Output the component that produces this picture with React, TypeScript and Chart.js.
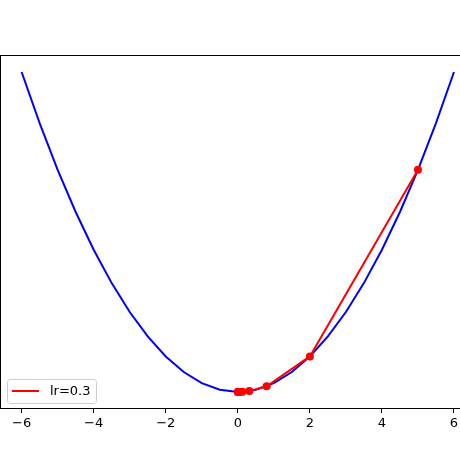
import React, { useEffect, useRef } from "react";
import { Chart, registerables } from "chart.js";

Chart.register(...registerables);

const xTicks = [-6, -4, -2, 0, 2, 4, 6];
const curveX = [-6, -5.5, -5, -4.5, -4, -3.5, -3, -2.5, -2, -1.5, -1, -0.5, 0, 0.5, 1, 1.5, 2, 2.5, 3, 3.5, 4, 4.5, 5, 5.5, 6];
const curveY = [36, 30.25, 25, 20.25, 16, 12.25, 9, 6.25, 4, 2.25, 1, 0.25, 0, 0.25, 1, 2.25, 4, 6.25, 9, 12.25, 16, 20.25, 25, 30.25, 36];
const descentX = [5, 2, 0.8, 0.32, 0.128, 0.0512, 0.02048, 0.008192, 0.0032768, 0.00131072];
const descentY = [25, 4, 0.64, 0.1024, 0.016384, 0.00262144, 0.00041943, 0.0000671, 0.0000107, 0.0000017];
const legendLabel = "lr=0.3";

const FONT = "'DejaVu Sans', sans-serif";

const framePlugin = {
  id: "frame",
  afterDatasetsDraw(chart: any) {
    const { ctx, chartArea: a } = chart;
    ctx.save();
    ctx.strokeStyle = "#000";
    ctx.lineWidth = 1;
    ctx.strokeRect(a.left + 0.5, a.top - 0.5, a.right - a.left, a.bottom - a.top + 1);
    ctx.restore();
  },
};

const legendPlugin = {
  id: "mplLegend",
  afterDraw(chart: any) {
    const { ctx } = chart;
    const ds = chart.data.datasets.find((d: any) => d.label);
    if (!ds) return;
    ctx.save();
    const x = 7.5, y = 379.5, w = 89, h = 24, r = 3;
    ctx.beginPath();
    ctx.moveTo(x + r, y);
    ctx.lineTo(x + w - r, y);
    ctx.quadraticCurveTo(x + w, y, x + w, y + r);
    ctx.lineTo(x + w, y + h - r);
    ctx.quadraticCurveTo(x + w, y + h, x + w - r, y + h);
    ctx.lineTo(x + r, y + h);
    ctx.quadraticCurveTo(x, y + h, x, y + h - r);
    ctx.lineTo(x, y + r);
    ctx.quadraticCurveTo(x, y, x + r, y);
    ctx.closePath();
    ctx.fillStyle = "rgba(255,255,255,0.8)";
    ctx.fill();
    ctx.strokeStyle = "#cccccc";
    ctx.lineWidth = 1;
    ctx.stroke();
    ctx.beginPath();
    ctx.strokeStyle = ds.borderColor;
    ctx.lineWidth = 2;
    ctx.moveTo(12, 391);
    ctx.lineTo(39, 391);
    ctx.stroke();
    ctx.fillStyle = "#000";
    ctx.font = `13px ${FONT}`;
    ctx.textBaseline = "middle";
    ctx.fillText(ds.label, 50, 391.5);
    ctx.restore();
  },
};

export default function App() {
  const ref = useRef<HTMLCanvasElement>(null);
  useEffect(() => {
    if (!ref.current) return;
    const chart = new Chart(ref.current, {
      type: "line",
      data: {
        datasets: [
          {
            data: curveX.map((x, i) => ({ x, y: curveY[i] })),
            borderColor: "#0000ff",
            borderWidth: 2,
            pointRadius: 0,
            fill: false,
            order: 2,
          },
          {
            label: legendLabel,
            data: descentX.map((x, i) => ({ x, y: descentY[i] })),
            borderColor: "#ff0000",
            backgroundColor: "#ff0000",
            borderWidth: 2,
            pointRadius: 4,
            pointBorderWidth: 0,
            pointBackgroundColor: "#ff0000",
            fill: false,
            order: 1,
          },
        ] as any,
      },
      options: {
        animation: false,
        responsive: false,
        events: [],
        layout: { autoPadding: false, padding: { left: 0, right: 4.4, top: 56, bottom: 0 } },
        plugins: { legend: { display: false }, tooltip: { enabled: false } },
        scales: {
          x: {
            type: "linear",
            min: -6.6,
            max: 6.6,
            afterFit: (s: any) => {
              s.height = 52;
              s.paddingLeft = 0;
              s.paddingRight = 0;
            },
            afterBuildTicks: (s: any) => {
              s.ticks = xTicks.map((v) => ({ value: v }));
            },
            grid: {
              drawOnChartArea: false,
              drawTicks: true,
              tickLength: 5,
              tickColor: "#000",
              tickWidth: 1,
            },
            border: { display: false },
            ticks: {
              color: "#000",
              font: { family: FONT, size: 13 },
              padding: 3,
              maxRotation: 0,
              autoSkip: false,
              callback: (v: any) => String(v).replace("-", "\u2212"),
            },
          },
          y: {
            type: "linear",
            display: false,
            min: -1.8,
            max: 37.8,
          },
        },
      },
      plugins: [framePlugin, legendPlugin],
    });
    return () => chart.destroy();
  }, []);
  return (
    <div
      style={{
        position: "fixed",
        left: 0,
        top: 0,
        width: 460,
        height: 460,
        overflow: "hidden",
        background: "#fff",
      }}
    >
      <canvas ref={ref} width={480} height={460} style={{ width: 480, height: 460, display: "block" }} />
    </div>
  );
}
